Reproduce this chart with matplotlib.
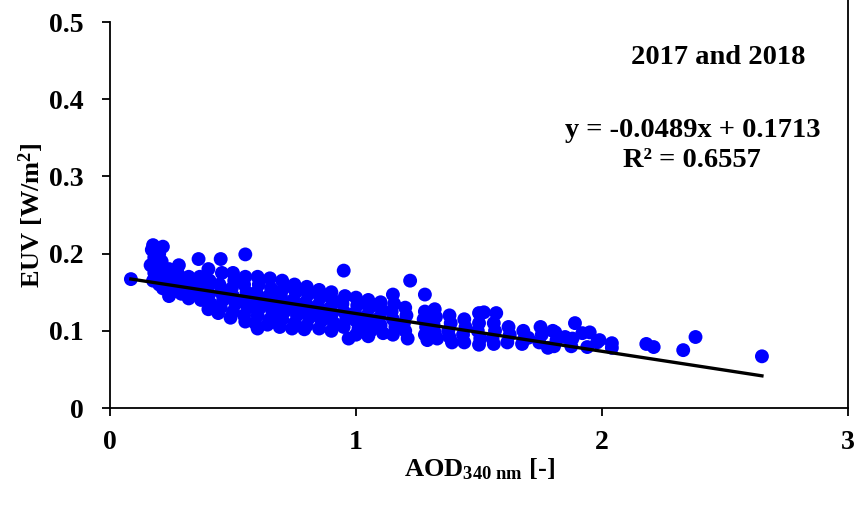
import matplotlib
matplotlib.use("Agg")
import matplotlib.pyplot as plt
from matplotlib.lines import Line2D
import numpy as np

# AOD at 340 nm and erythemal UV irradiance, 2017-2018
aod = [
    0.085,
    0.175, 0.215, 0.17, 0.18, 0.165, 0.18, 0.175,
    0.20, 0.21, 0.195, 0.205, 0.20, 0.215,
    0.24, 0.245, 0.235, 0.25, 0.24,
    0.28, 0.275, 0.285, 0.28, 0.29,
    0.32, 0.325, 0.315, 0.32,
    0.36, 0.365, 0.355, 0.36, 0.37,
    0.40, 0.405, 0.395, 0.40, 0.41, 0.40,
    0.45, 0.455, 0.445, 0.45, 0.46, 0.45, 0.44,
    0.50, 0.505, 0.495, 0.50, 0.51, 0.50, 0.49,
    0.55, 0.55, 0.545, 0.555, 0.55, 0.56, 0.545, 0.55,
    0.60, 0.605, 0.595, 0.60, 0.61, 0.60, 0.59, 0.60,
    0.65, 0.655, 0.645, 0.65, 0.66, 0.65, 0.64,
    0.70, 0.705, 0.695, 0.70, 0.71, 0.70, 0.69,
    0.75, 0.755, 0.745, 0.75, 0.76, 0.75, 0.74,
    0.80, 0.805, 0.795, 0.80, 0.81, 0.80, 0.79,
    0.85, 0.855, 0.845, 0.85, 0.86, 0.85,
    0.90, 0.905, 0.895, 0.90, 0.91, 0.90,
    0.95, 0.955, 0.945, 0.95, 0.96, 0.95,
    0.97,
    1.00, 1.005, 0.995, 1.00, 1.01, 1.00,
    1.05, 1.055, 1.045, 1.05, 1.06, 1.05,
    1.10, 1.105, 1.095, 1.10, 1.11,
    1.15, 1.155, 1.145, 1.15, 1.16, 1.15,
    1.20, 1.205, 1.195, 1.20, 1.21,
    1.22,
    1.28, 1.28, 1.275, 1.285, 1.28, 1.29,
    1.32, 1.325, 1.315, 1.32, 1.33,
    1.38, 1.385, 1.375, 1.38, 1.39,
    1.44, 1.445, 1.435, 1.44,
    1.50, 1.50, 1.495, 1.505, 1.50,
    1.52, 1.57,
    1.56, 1.565, 1.555, 1.56,
    1.62, 1.625, 1.615,
    1.68, 1.685, 1.675,
    1.70, 1.75, 1.755, 1.745, 1.78, 1.80,
    1.81, 1.815, 1.805, 1.85,
    1.88, 1.875, 1.89,
    1.92, 1.94, 1.95, 1.98, 1.99, 2.04, 2.04,
    2.18, 2.21, 2.33, 2.38, 2.65,
]
euv = [
    0.167,
    0.211, 0.209, 0.205, 0.195, 0.185, 0.175, 0.165,
    0.200, 0.190, 0.180, 0.170, 0.160, 0.155,
    0.180, 0.170, 0.160, 0.150, 0.145,
    0.185, 0.175, 0.165, 0.155, 0.148,
    0.170, 0.160, 0.150, 0.142,
    0.193, 0.170, 0.160, 0.150, 0.140,
    0.180, 0.165, 0.155, 0.145, 0.135, 0.128,
    0.193, 0.175, 0.160, 0.150, 0.140, 0.130, 0.123,
    0.175, 0.165, 0.155, 0.145, 0.135, 0.125, 0.117,
    0.199, 0.170, 0.160, 0.150, 0.140, 0.130, 0.120, 0.112,
    0.170, 0.160, 0.150, 0.140, 0.130, 0.120, 0.110, 0.103,
    0.168, 0.155, 0.145, 0.135, 0.125, 0.115, 0.108,
    0.165, 0.155, 0.145, 0.135, 0.125, 0.115, 0.105,
    0.160, 0.150, 0.140, 0.130, 0.120, 0.110, 0.103,
    0.157, 0.147, 0.137, 0.127, 0.117, 0.107, 0.102,
    0.153, 0.143, 0.133, 0.123, 0.113, 0.103,
    0.150, 0.140, 0.130, 0.120, 0.110, 0.100,
    0.178, 0.145, 0.135, 0.125, 0.115, 0.105,
    0.090,
    0.143, 0.133, 0.123, 0.113, 0.103, 0.095,
    0.140, 0.130, 0.120, 0.110, 0.100, 0.093,
    0.137, 0.127, 0.117, 0.107, 0.097,
    0.147, 0.135, 0.125, 0.115, 0.105, 0.095,
    0.130, 0.120, 0.110, 0.100, 0.090,
    0.165,
    0.147, 0.125, 0.115, 0.105, 0.095, 0.088,
    0.128, 0.118, 0.108, 0.098, 0.090,
    0.120, 0.110, 0.100, 0.092, 0.085,
    0.115, 0.105, 0.095, 0.085,
    0.123, 0.110, 0.100, 0.090, 0.082,
    0.124, 0.123,
    0.110, 0.100, 0.090, 0.083,
    0.105, 0.095, 0.085,
    0.100, 0.090, 0.083,
    0.091, 0.105, 0.095, 0.085, 0.078, 0.100,
    0.098, 0.088, 0.080, 0.092,
    0.090, 0.080, 0.110,
    0.097, 0.079, 0.098, 0.085, 0.088, 0.084, 0.078,
    0.083, 0.079, 0.075, 0.092, 0.067,
]

# Linear fit reported on the chart
slope = -0.0489
intercept = 0.1713
r2 = 0.6557

plt.rcParams["font.family"] = ["Liberation Serif", "DejaVu Serif"]
plt.rcParams["font.weight"] = "bold"
plt.rcParams["mathtext.fontset"] = "custom"
plt.rcParams["mathtext.rm"] = "Liberation Serif:bold"
plt.rcParams["mathtext.bf"] = "Liberation Serif:bold"
plt.rcParams["mathtext.it"] = "Liberation Serif:bold"

fig = plt.figure(figsize=(8.56, 5.05), dpi=100)
ax = fig.add_axes([0.1285, 0.192, 0.8622, 0.7644])

ax.scatter(aod, euv, s=100, color="#0000FF", edgecolors="none", zorder=2)

xf = np.array([min(aod), max(aod)])
ax.plot(xf, slope * xf + intercept, color="black", lw=2.4, zorder=3)

ax.set_xlim(0, 3)
ax.set_ylim(0, 0.5)
ax.set_xticks([0, 1, 2, 3])
ax.set_xticklabels(["0", "1", "2", "3"])
ax.set_yticks([0, 0.1, 0.2, 0.3, 0.4, 0.5])
ax.set_yticklabels(["0", "0.1", "0.2", "0.3", "0.4", "0.5"])
ax.tick_params(direction="out", length=6, width=1.3, labelsize=20)
ax.tick_params(axis="x", pad=10)
ax.tick_params(axis="y", pad=13)
for lab in ax.get_xticklabels() + ax.get_yticklabels():
    lab.set_fontweight("bold")
ax.spines["top"].set_visible(False)
for sp in ("left", "bottom", "right"):
    ax.spines[sp].set_linewidth(1.3)
ax.spines["right"].set_visible(False)
# outer frame edge on the right runs to the top of the figure
fig.add_artist(Line2D([0.9907, 0.9907], [0.192, 1.0], transform=fig.transFigure,
                      color="black", lw=1.3))

ax.set_xlabel(r"AOD$_{\mathrm{340\ nm}}$ [-]", fontsize=19, fontweight="bold", labelpad=1)
ax.set_ylabel(r"EUV [W/m$^{\mathrm{2}}$]", fontsize=19, fontweight="bold", labelpad=2)

ax.text(0.824, 0.909, "2017 and 2018", transform=ax.transAxes, ha="center", va="center",
        fontsize=20.5, fontweight="bold")
ax.text(0.789, 0.718, f"y = {slope:.4f}x + {intercept:.4f}", transform=ax.transAxes,
        ha="center", va="center", fontsize=20.5, fontweight="bold")
ax.text(0.789, 0.642, f"R² = {r2:.4f}", transform=ax.transAxes,
        ha="center", va="center", fontsize=20.5, fontweight="bold")

fig.savefig("out.png", dpi=100)
